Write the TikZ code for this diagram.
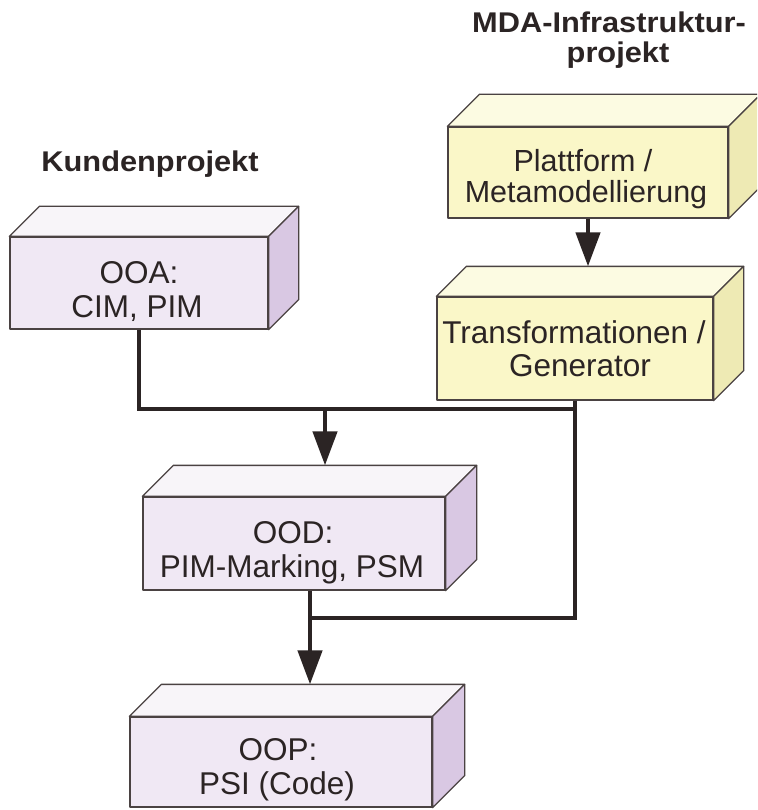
\documentclass[tikz,border=0pt]{standalone}
\usepackage{fontspec}
\setmainfont{Liberation Sans}
\newfontfamily\titlefont{Liberation Sans}[FakeStretch=1.08]
\usetikzlibrary{arrows.meta,calc}

\definecolor{ink}{HTML}{2B2424}
\definecolor{edge}{HTML}{4A4242}
\definecolor{lilafront}{HTML}{F0E8F4}
\definecolor{lilatop}{HTML}{F8F5F9}
\definecolor{lilaside}{HTML}{D9C8E3}
\definecolor{gelbfront}{HTML}{FAF7C8}
\definecolor{gelbtop}{HTML}{FCFBE2}
\definecolor{gelbside}{HTML}{EEEAB4}

\tikzset{
  face/.style={draw=edge, line width=1.3pt, line join=round},
  frontface/.style={face, rectangle, inner sep=0pt},
  boxtext/.style={anchor=base, inner sep=0pt, text=ink, font=\fontsize{31.5}{34}\selectfont},
  smallboxtext/.style={boxtext, font=\fontsize{30.5}{33}\selectfont},
  titletext/.style={anchor=base, inner sep=0pt, text=ink, font=\titlefont\bfseries\fontsize{28.5}{33}\selectfont},
  flow/.style={draw=ink, line width=4.5pt},
  flowarrow/.style={flow, -{Triangle[length=34pt, width=24pt]}},
}

% top and right faces of a block whose front face is the node #1
\newcommand\drawcube[4]{%
  \draw[face, fill=#3] (#1.north west) -- ++(#2,-#2) -- ($(#1.north east)+(#2,-#2)$) -- (#1.north east) -- cycle;
  \draw[face, fill=#4] (#1.north east) -- ++(#2,-#2) -- ($(#1.south east)+(#2,-#2)$) -- (#1.south east) -- cycle;
}

\begin{document}
\begin{tikzpicture}[x=1pt, y=-1pt]
  \useasboundingbox (0,0) rectangle (757,810);
  \fill[white] (0,0) rectangle (757,810);
  \clip (0,0) rectangle (757,810);

  % titles
  \node[titletext] (kunde) at (150,172) {Kundenprojekt};
  \node[titletext] (mda1) at (609,33) {MDA-Infrastruktur-};
  \node[titletext] (mda2) at (618,63) {projekt};

  % front faces
  \node[frontface, fill=lilafront, minimum width=258pt, minimum height=92pt] (ooa) at (139,283) {};
  \node[frontface, fill=gelbfront, minimum width=280pt, minimum height=91pt] (plat) at (588,172.5) {};
  \node[frontface, fill=gelbfront, minimum width=276pt, minimum height=103pt] (trafo) at (575,348.5) {};
  \node[frontface, fill=lilafront, minimum width=302pt, minimum height=93pt] (ood) at (294,543.5) {};
  \node[frontface, fill=lilafront, minimum width=302pt, minimum height=90pt] (oop) at (281,762) {};

  \drawcube{ooa}{30}{lilatop}{lilaside}
  \drawcube{plat}{32}{gelbtop}{gelbside}
  \drawcube{trafo}{30}{gelbtop}{gelbside}
  \drawcube{ood}{31}{lilatop}{lilaside}
  \drawcube{oop}{32}{lilatop}{lilaside}

  % box labels
  \node[boxtext] (ooa-t1) at (139,283) {OOA:};
  \node[boxtext] (ooa-t2) at (137,317) {CIM, PIM};
  \node[smallboxtext] (plat-t1) at (583,172) {Plattform /};
  \node[smallboxtext] (plat-t2) at (586,203) {Metamodellierung};
  \node[boxtext] (trafo-t1) at (574,343) {Transformationen /};
  \node[boxtext] (trafo-t2) at (580,376) {Generator};
  \node[boxtext] (ood-t1) at (293,543) {OOD:};
  \node[boxtext] (ood-t2) at (292,577) {PIM-Marking, PSM};
  \node[boxtext] (oop-t1) at (278,760) {OOP:};
  \node[boxtext] (oop-t2) at (277,794) {PSI (Code)};

  % connector anchors
  \coordinate (busA) at (0,409);
  \coordinate (busB) at (0,618);
  \coordinate (trafo-back) at ($(trafo.north)+(0,-30)$);
  \coordinate (ood-in) at ($(ood.north)+(31,-31)$);
  \coordinate (ood-out) at ($(ood.south)+(16,0)$);
  \coordinate (oop-back) at ($(oop.north)+(0,-32)$);

  % connectors
  \draw[flowarrow] (plat.south) -- (plat.south |- trafo-back);
  \draw[flow] (ooa.south) -- (ooa.south |- busA) -- (trafo.south |- busA);
  \draw[flow] (trafo.south) -- (trafo.south |- busB) -- (ood-out |- busB);
  \draw[flowarrow] (ood-in |- busA) -- (ood-in);
  \draw[flowarrow] (ood-out) -- (ood-out |- oop-back);
\end{tikzpicture}
\end{document}
